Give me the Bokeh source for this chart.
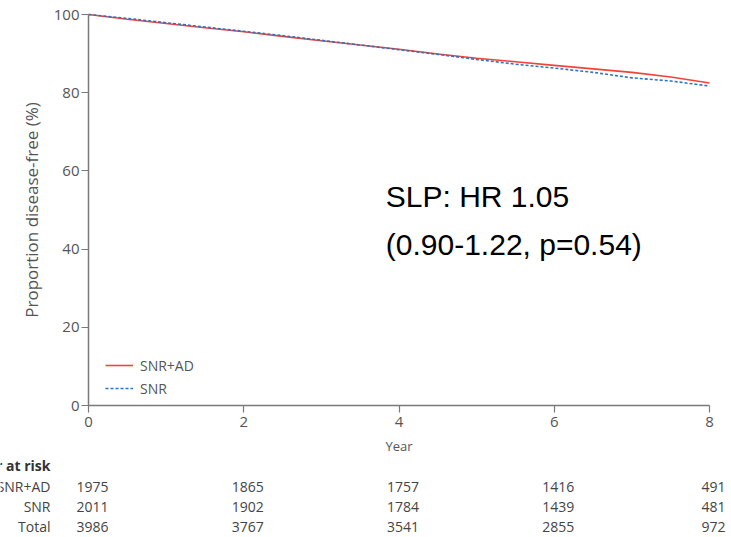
from bokeh.plotting import figure
from bokeh.models import Range1d, FixedTicker, Label, LinearAxis, Legend, LegendItem
from bokeh.core.properties import value
from bokeh.embed import file_html
from bokeh.resources import INLINE

# ---- data ----
years = [0, 0.5, 1, 1.5, 2, 2.5, 3, 3.5, 4, 4.5, 5, 5.5, 6, 6.5, 7, 7.5, 8]
snr_ad = [100, 98.8, 97.7, 96.6, 95.6, 94.4, 93.3, 92.2, 91.1, 89.9, 88.8, 87.9, 87.0, 86.1, 85.2, 84.0, 82.5]
snr = [100, 99.0, 97.9, 96.8, 95.7, 94.6, 93.4, 92.2, 91.0, 89.8, 88.5, 87.3, 86.3, 85.2, 83.8, 83.0, 81.7]

x_ticks = [0, 2, 4, 6, 8]
y_ticks = [0, 20, 40, 60, 80, 100]

risk_years = [0, 2, 4, 6, 8]
risk_snr_ad = [1975, 1865, 1757, 1416, 491]
risk_snr = [2011, 1902, 1784, 1439, 481]
risk_total = [3986, 3767, 3541, 2855, 972]
row_labels = ["SNR+AD", "SNR", "Total"]

RED = "#f0433a"
BLUE = "#2e74c0"
AXIS = "#7a7a7a"
TXT = "#555555"
FONT = "Open Sans"

# layout geometry (pixels): axes box from x=88..709, y=14..405 in a 731x537 canvas
W, H = 731, 537
X0, X1, Y0, Y1 = 88, 709, 405, 14
sx = (X1 - X0) / 8.0
sy = (Y0 - Y1) / 100.0

p = figure(width=W, height=H, output_backend="svg", toolbar_location=None,
           x_range=Range1d(-X0 / sx, 8 + (W - X1) / sx),
           y_range=Range1d(-(H - Y0) / sy, 100 + Y1 / sy),
           x_axis_type=None, y_axis_type=None, min_border=0)
p.outline_line_color = None
p.grid.visible = False

r1 = p.line(years, snr_ad, line_color=RED, line_width=1.6)
r2 = p.line(years, snr, line_color=BLUE, line_width=1.6, line_dash="3 2")

xaxis = LinearAxis(fixed_location=0, bounds=(0, 8), ticker=FixedTicker(ticks=x_ticks),
                   axis_label="Year")
yaxis = LinearAxis(fixed_location=0, bounds=(0, 100), ticker=FixedTicker(ticks=y_ticks),
                   axis_label="Proportion disease-free (%)")
for ax in (xaxis, yaxis):
    ax.axis_line_color = AXIS
    ax.axis_line_width = 1.5
    ax.major_tick_line_color = AXIS
    ax.major_tick_line_width = 1.2
    ax.major_tick_out = 7
    ax.major_tick_in = 0
    ax.minor_tick_line_color = None
    ax.major_label_text_font = FONT
    ax.major_label_text_font_size = "15px"
    ax.major_label_text_color = TXT
    ax.axis_label_text_font = FONT
    ax.axis_label_text_font_style = "normal"
    ax.axis_label_text_color = TXT
xaxis.axis_label_text_font_size = "13px"
yaxis.axis_label_text_font_size = "17px"
xaxis.major_label_standoff = 4
xaxis.axis_label_standoff = 7
yaxis.major_label_standoff = 2
yaxis.axis_label_standoff = 8
p.add_layout(xaxis, "below")
p.add_layout(yaxis, "left")

lg = Legend(items=[LegendItem(label="SNR+AD", renderers=[r1]),
                   LegendItem(label="SNR", renderers=[r2])],
            location=(X0 + 17, H - Y0 + 7), padding=0, margin=0, spacing=3,
            border_line_color=None, background_fill_alpha=0,
            glyph_width=28, glyph_height=20, label_text_font=FONT,
            label_text_font_size="14px", label_text_color=TXT, label_standoff=7)
p.add_layout(lg)

p.add_layout(Label(x=3.83, y=53.4, text="SLP: HR 1.05", text_font="Liberation Sans",
                   text_font_size="30px", text_color="black", text_baseline="alphabetic"))
p.add_layout(Label(x=3.83, y=41.2, text="(0.90-1.22, p=0.54)", text_font="Liberation Sans",
                   text_font_size="30px", text_color="black", text_baseline="alphabetic"))

# ---- number at risk table ----
row_y = [-(465 - Y0) / sy, -(486 - Y0) / sy, -(506 - Y0) / sy, -(526 - Y0) / sy]
label_x = -(X0 - 50) / sx

xs, ys, txt = [], [], []
for i, r in enumerate([risk_snr_ad, risk_snr, risk_total]):
    for yr, n in zip(risk_years, r):
        xs.append(yr)
        ys.append(row_y[i + 1])
        txt.append(str(n))
p.text(x=xs, y=ys, text=txt, text_align="center", text_baseline="middle",
       x_offset=4, text_font=value(FONT), text_font_size="14px", text_color="#444444")
p.text(x=[label_x] * 3, y=row_y[1:], text=row_labels, text_align="right",
       text_baseline="middle", text_font=value(FONT), text_font_size="14px",
       text_color="#444444")
p.text(x=[label_x], y=[row_y[0]], text=["Number at risk"], text_align="right",
       text_baseline="middle", text_font=value(FONT), text_font_size="14px",
       text_font_style="bold", text_color="#333333")

open("out.html", "w").write(file_html(p, INLINE))
